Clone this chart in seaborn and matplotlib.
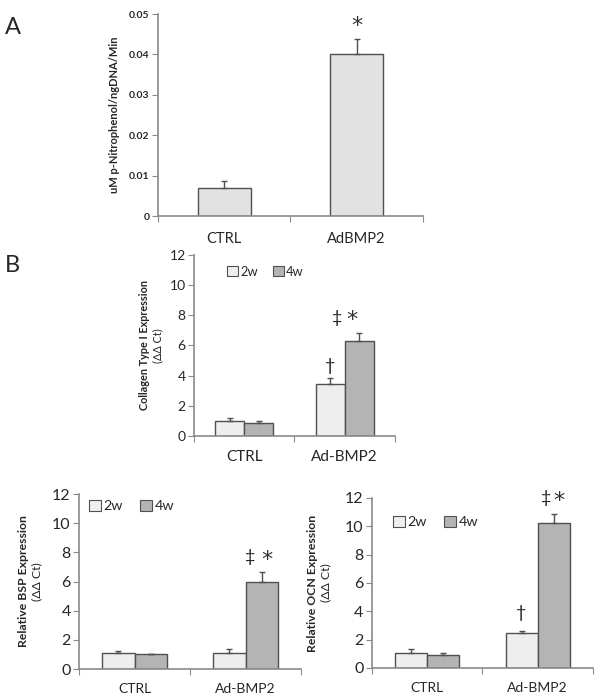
import numpy as np
import pandas as pd
import matplotlib
matplotlib.use("Agg")
import matplotlib.pyplot as plt
import matplotlib.patches as mpatches
import seaborn as sns

sns.set_style("white")
plt.rcParams["font.family"] = ["Lato", "DejaVu Sans"]

# ---- dados ----
grupos_a = ["CTRL", "AdBMP2"]
alp_media = [0.007, 0.040]
alp_erro = [0.0017, 0.0038]

grupos_b = ["CTRL", "Ad-BMP2"]
tempos = ["2w", "4w"]
col1_2w = [1.0, 3.45]
col1_4w = [0.85, 6.3]
col1_2w_err = [0.18, 0.4]
col1_4w_err = [0.15, 0.5]

bsp_2w = [1.1, 1.1]
bsp_4w = [1.0, 6.0]
bsp_2w_err = [0.12, 0.28]
bsp_4w_err = [0.0, 0.65]

ocn_2w = [1.05, 2.45]
ocn_4w = [0.95, 10.2]
ocn_2w_err = [0.3, 0.15]
ocn_4w_err = [0.12, 0.65]

COR = {"2w": "#eeeeee", "4w": "#b4b4b4"}
EDGE = "#505050"
SPINE = "#8a8a8a"

fig = plt.figure(figsize=(6, 6.98), dpi=100)


def estilo(ax, fs_tick, bold=False):
    sns.despine(ax=ax)
    for s in ["left", "bottom"]:
        ax.spines[s].set_color(SPINE)
        ax.spines[s].set_linewidth(1.2)
    ax.set_xlim(-0.5, 1.5)
    ax.set_xticks([-0.5, 0.5, 1.5], minor=False)
    ax.set_xticklabels([])
    ax.tick_params(axis="x", which="major", length=4, color=SPINE, direction="out", bottom=True)
    ax.tick_params(axis="y", length=4, color=SPINE, direction="out", left=True,
                   labelsize=fs_tick, pad=2)
    if bold:
        for t in ax.get_yticklabels():
            t.set_fontweight("bold")
    ax.set_xlabel("")
    ax.set_ylabel("")


def marca(ax, x, y, s):
    # asterisco maior, como no original
    if s == "*":
        ax.text(x, y, "*", ha="center", va="bottom", fontsize=16,
                family="DejaVu Sans", color="#333333")
    else:
        ax.text(x, y, s, ha="center", va="bottom", fontsize=13)


# ══════════ A ══════════
axA = fig.add_axes([0.263, 0.6905, 0.442, 0.2894])
dfA = pd.DataFrame({"grupo": grupos_a, "valor": alp_media})
sns.barplot(data=dfA, x="grupo", y="valor", color="#e2e2e2", width=0.4,
            edgecolor=EDGE, linewidth=1.0, ax=axA)
axA.errorbar([0, 1], alp_media, yerr=[[0, 0], alp_erro], fmt="none",
             ecolor=EDGE, elinewidth=1.0, capsize=2)
axA.set_ylim(0, 0.05)
axA.set_yticks([0, 0.01, 0.02, 0.03, 0.04, 0.05])
axA.set_yticklabels(["0", "0.01", "0.02", "0.03", "0.04", "0.05"])
estilo(axA, 7.5, bold=True)
for i, g in enumerate(grupos_a):
    axA.text(i, -0.08, g, transform=axA.get_xaxis_transform(), ha="center",
             va="top", fontsize=10.5)
axA.text(1, 0.0445, "*", ha="center", va="bottom", fontsize=16,
         family="DejaVu Sans", color="#333333")
axA.text(-0.165, 0.5, "uM p-Nitrophenol/ngDNA/Min", transform=axA.transAxes,
         rotation=90, ha="center", va="center", fontsize=8, fontweight="bold")
fig.text(0.008, 0.975, "A", fontsize=17, va="top")


def painel_b(rect, v2, v4, e2, e4, lab1, lab_dx, fs_tick, fs_lab, fs_cat, leg_xy,
             marcas):
    ax = fig.add_axes(rect)
    df = pd.DataFrame({
        "grupo": grupos_b * 2,
        "tempo": ["2w"] * 2 + ["4w"] * 2,
        "valor": v2 + v4,
    })
    sns.barplot(data=df, x="grupo", y="valor", hue="tempo", palette=COR,
                width=0.58, edgecolor=EDGE, linewidth=1.0, ax=ax, legend=False)
    w = 0.58 / 2
    xs2 = np.arange(2) - w / 2
    xs4 = np.arange(2) + w / 2
    ax.errorbar(xs2, v2, yerr=[[0, 0], e2], fmt="none", ecolor=EDGE,
                elinewidth=1.0, capsize=2)
    ax.errorbar(xs4, v4, yerr=[[0, 0], e4], fmt="none", ecolor=EDGE,
                elinewidth=1.0, capsize=2)
    ax.set_ylim(0, 12)
    ax.set_yticks(range(0, 13, 2))
    estilo(ax, fs_tick)
    for i, g in enumerate(grupos_b):
        ax.text(i, -0.08, g, transform=ax.get_xaxis_transform(), ha="center",
                va="top", fontsize=fs_cat)
    handles = [mpatches.Patch(facecolor=COR[t], edgecolor=EDGE, linewidth=0.8,
                              label=t) for t in tempos]
    ax.legend(handles=handles, loc="upper left", bbox_to_anchor=leg_xy,
              ncol=2, frameon=False, fontsize=fs_lab + 1.5, handlelength=0.8,
              handleheight=0.8, handletextpad=0.2, columnspacing=1.2,
              borderaxespad=0)
    ax.text(lab_dx[0], 0.5, lab1, transform=ax.transAxes, rotation=90,
            ha="center", va="center", fontsize=fs_lab, fontweight="bold")
    ax.text(lab_dx[1], 0.5, "(ΔΔ Ct)", transform=ax.transAxes, rotation=90,
            ha="center", va="center", fontsize=fs_lab)
    for (x, y, s) in marcas:
        marca(ax, x, y, s)
    return ax


w4 = 0.58 / 4
# B topo
painel_b([0.3233, 0.3754, 0.335, 0.2593], col1_2w, col1_4w, col1_2w_err,
         col1_4w_err, "Collagen Type I Expression", (-0.245, -0.18),
         10, 7.8, 11, (0.14, 0.97),
         [(1 - w4, 4.1, "†"), (1 + w4 - 0.22, 7.3, "‡"), (1 + w4 - 0.07, 7.0, "*")])
fig.text(0.008, 0.635, "B", fontsize=17, va="top")

# BSP
painel_b([0.1317, 0.0415, 0.37, 0.2507], bsp_2w, bsp_4w, bsp_2w_err,
         bsp_4w_err, "Relative BSP Expression", (-0.25, -0.19),
         11.5, 8.8, 10, (0.02, 1.0),
         [(1 + w4 - 0.1, 7.1, "‡"), (1 + w4 + 0.05, 6.8, "*")])

# OCN
painel_b([0.62, 0.043, 0.368, 0.2436], ocn_2w, ocn_4w, ocn_2w_err,
         ocn_4w_err, "Relative OCN Expression", (-0.27, -0.21),
         11.5, 8.8, 10, (0.07, 0.93),
         [(1 - w4, 3.3, "†"), (1 + w4 - 0.07, 11.4, "‡"), (1 + w4 + 0.05, 11.1, "*")])

fig.savefig("out.png", dpi=100)
